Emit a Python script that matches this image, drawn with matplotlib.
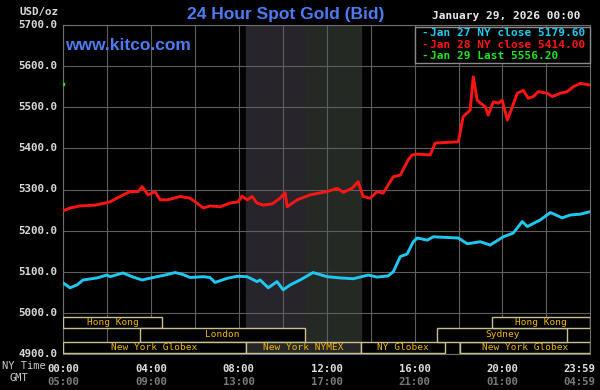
import matplotlib
matplotlib.use("Agg")
import matplotlib.pyplot as plt
from matplotlib.patches import Rectangle

# hours after 00:00 NY time, and bid price
jan27_hours = [0.0, 0.32, 0.64, 0.91, 1.55, 2.0, 2.14, 2.73, 3.14, 3.6, 4.1, 4.64, 5.1, 5.42,
               5.78, 6.38, 6.69, 6.92, 7.47, 7.92, 8.38, 8.83, 8.97, 9.34, 9.74, 10.02, 10.34,
               10.79, 11.38, 12.02, 12.61, 13.21, 13.89, 14.3, 14.8, 15.03, 15.35, 15.66, 15.94,
               16.12, 16.58, 16.85, 17.99, 18.4, 18.99, 19.44, 20.04, 20.49, 20.9, 21.13, 21.72,
               22.18, 22.72, 23.08, 23.54, 23.98]
jan27_price = [5073, 5061, 5068, 5080, 5085, 5092, 5088, 5097, 5088, 5080, 5086, 5092, 5098, 5094,
               5086, 5088, 5086, 5074, 5084, 5089, 5088, 5076, 5080, 5061, 5076, 5056, 5068,
               5080, 5098, 5088, 5085, 5083, 5092, 5087, 5090, 5100, 5137, 5143, 5173,
               5182, 5177, 5185, 5182, 5168, 5173, 5165, 5185, 5194, 5222, 5210, 5226,
               5244, 5231, 5238, 5240, 5246]

jan28_hours = [0.0, 0.32, 0.77, 1.46, 1.91, 2.14, 2.6, 3.05, 3.42, 3.6, 3.87, 4.19, 4.42, 4.78,
               5.33, 5.78, 6.1, 6.38, 6.69, 7.15, 7.6, 7.97, 8.15, 8.38, 8.61, 8.83, 9.11, 9.52,
               9.88, 10.11, 10.2, 10.66, 11.25, 12.02, 12.48, 12.75, 13.16, 13.43, 13.66, 13.98,
               14.3, 14.57, 15.03, 15.35, 15.71, 15.89, 16.12, 16.71, 16.94, 17.99, 18.21, 18.53,
               18.67, 18.85, 18.99, 19.22, 19.35, 19.58, 19.81, 19.99, 20.22, 20.45, 20.67, 20.95,
               21.17, 21.4, 21.63, 22.04, 22.27, 22.63, 22.95, 23.22, 23.54, 23.98]
jan28_price = [5248, 5255, 5260, 5262, 5267, 5270, 5283, 5295, 5295, 5307, 5287, 5295, 5275, 5275,
               5283, 5279, 5267, 5255, 5260, 5258, 5267, 5270, 5284, 5275, 5283, 5267, 5262, 5265,
               5279, 5292, 5258, 5275, 5287, 5295, 5303, 5293, 5303, 5319, 5283, 5279,
               5295, 5291, 5331, 5335, 5372, 5384, 5386, 5384, 5413, 5416, 5477, 5493,
               5574, 5517, 5510, 5501, 5481, 5513, 5510, 5517, 5469, 5501, 5534, 5541,
               5522, 5526, 5538, 5534, 5526, 5534, 5538, 5550, 5558, 5554]

jan29_hours = [0.0]
jan29_price = [5556.2]

legend_labels = ["Jan 27 NY close 5179.60", "Jan 28 NY close 5414.00", "Jan 29 Last 5556.20"]
line_colors = ["#20c8f0", "#ff1414", "#20e020"]

ny_ticks = [0, 4, 8, 12, 16, 20, 23.983]
ny_labels = ["00:00", "04:00", "08:00", "12:00", "16:00", "20:00", "23:59"]
gmt_labels = ["05:00", "09:00", "13:00", "17:00", "21:00", "01:00", "04:59"]
y_ticks = [4900, 5000, 5100, 5200, 5300, 5400, 5500, 5600, 5700]

# trading sessions: name, start, end, row (0 = top)
sess_names = ["Hong Kong", "London", "New York Globex", "New York NYMEX", "NY Globex",
              "New York Globex", "Sydney", "Hong Kong"]
sess_start = [0.0, 3.5, 0.0, 8.33, 13.55, 18.08, 17.03, 19.54]
sess_end = [4.51, 11.0, 8.33, 13.55, 17.4, 23.983, 22.95, 23.983]
sess_row = [0, 1, 2, 2, 2, 2, 1, 0]

W, H = 600, 390
mono = "DejaVu Sans Mono"


def fx(x):
    return x / W


def fy(y):
    return 1 - y / H


fig = plt.figure(figsize=(6, 3.9), dpi=100, facecolor="black")
ax = fig.add_axes([fx(63), fy(354), 527 / W, 329 / H], facecolor="black")
ax.set_xlim(0, 23.983)
ax.set_ylim(4900, 5700)

# shaded NYMEX hours
ax.axvspan(8.33, 11.0, color="#27242b", zorder=0)
ax.axvspan(11.0, 13.55, color="#242924", zorder=0)

ax.set_xticks(range(0, 24, 2))
ax.set_yticks(y_ticks)
ax.grid(True, color="#5e5e5e", lw=0.8)
ax.set_axisbelow(True)
ax.tick_params(length=0, labelbottom=False, labelleft=False)
for s in ax.spines.values():
    s.set_color("#6e6e6e")

for t in y_ticks:
    ax.text(-0.25, t, f"{t:.1f}", ha="right", va="center", color="#d8d8d8",
            fontsize=7.8, family=mono, fontweight="bold")

ax.plot(jan27_hours, jan27_price, color=line_colors[0], lw=2.1, zorder=3)
ax.plot(jan28_hours, jan28_price, color=line_colors[1], lw=2.1, zorder=3)
ax.plot(jan29_hours, jan29_price, "s", color=line_colors[2], ms=1.5, zorder=3)

# session boxes
row_lo = [4963, 4930, 4902]
row_hi = [4991, 4963, 4930]
for name, a, b, r in zip(sess_names, sess_start, sess_end, sess_row):
    fill = "#262626" if "NYMEX" in name else "black"
    ax.add_patch(Rectangle((a, row_lo[r]), b - a, row_hi[r] - row_lo[r], facecolor=fill,
                           edgecolor="#c8c090", lw=1.0, zorder=4))
    ax.text((a + b) / 2, (row_lo[r] + row_hi[r]) / 2, name, ha="center", va="center",
            color="#f0b800", fontsize=6.8, family=mono, zorder=5)

# time labels
for t, ny, gmt in zip(ny_ticks, ny_labels, gmt_labels):
    ha = "right" if t > 23 else "center"
    xx = t + 0.25 if t > 23 else t
    ax.text(xx, -0.03, ny, transform=ax.get_xaxis_transform(), ha=ha, va="top",
            color="#e0e0e0", fontsize=7.7, family=mono, fontweight="bold")
    ax.text(xx, -0.07, gmt, transform=ax.get_xaxis_transform(), ha=ha, va="top",
            color="#7a7a7a", fontsize=7.7, family=mono, fontweight="bold")

fig.text(fx(2), fy(366), "NY Time", ha="left", va="center", color="#c8c8c8",
         fontsize=7.5, family=mono)
fig.text(fx(10), fy(378), "GMT", ha="left", va="center", color="#c8c8c8",
         fontsize=7.5, family=mono)
fig.text(fx(58), fy(12), "USD/oz", ha="right", va="center", color="#d8d8d8",
         fontsize=7.8, family=mono, fontweight="bold")

fig.text(fx(286), fy(14), "24 Hour Spot Gold (Bid)", ha="center", va="center",
         color="#4d7cf2", fontsize=12.5, family="Liberation Sans", fontweight="bold")
fig.text(fx(65), fy(46), "www.kitco.com", ha="left", va="center",
         color="#4d7cf2", fontsize=12.5, family="Liberation Sans", fontweight="bold")
fig.text(fx(580), fy(16), "January 29, 2026 00:00", ha="right", va="center",
         color="#e8e8e8", fontsize=8, family=mono, fontweight="bold")

# legend box
fig.patches.append(Rectangle((fx(415), fy(63)), 175 / W, 36 / H, transform=fig.transFigure,
                             facecolor="black", edgecolor="#8a8a8a", lw=1.0, zorder=6))
for i, (lab, c) in enumerate(zip(legend_labels, line_colors)):
    yy = 33 + i * 11.5
    fig.text(fx(421), fy(yy), "-", ha="left", va="center", color=c, fontsize=8,
             family=mono, fontweight="bold", zorder=7)
    fig.text(fx(430), fy(yy), lab, ha="left", va="center", color=c, fontsize=8,
             family=mono, fontweight="bold", zorder=7)

fig.savefig("out.png", dpi=100, facecolor="black")
